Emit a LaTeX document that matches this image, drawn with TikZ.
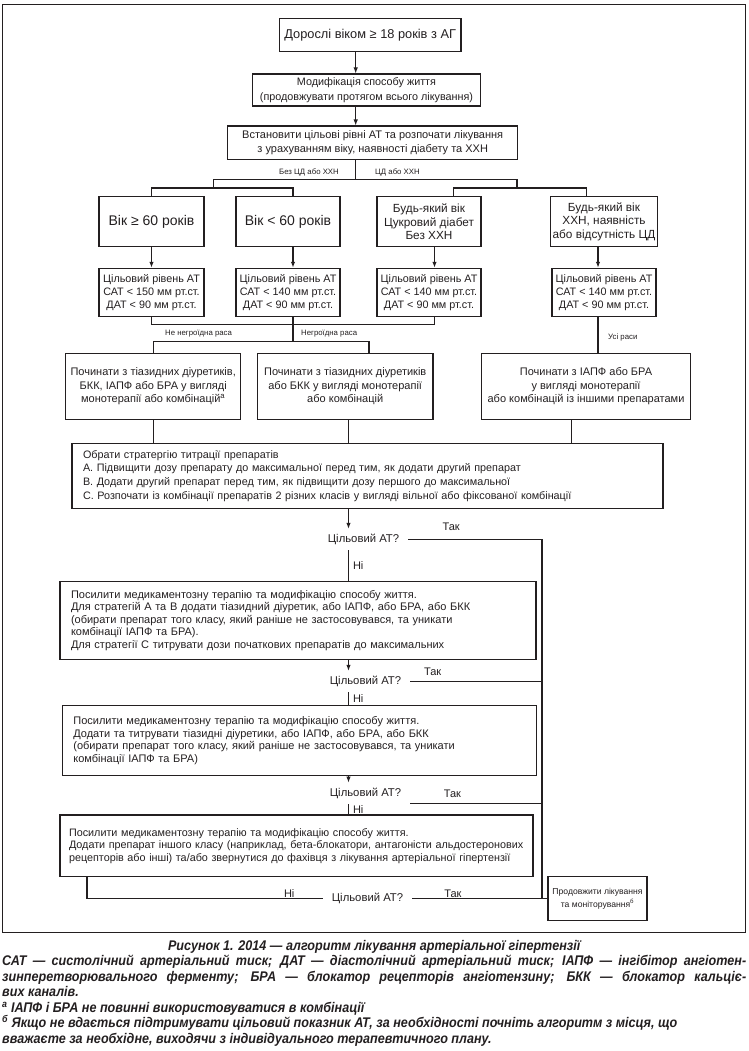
\documentclass[tikz,border=0pt]{standalone}
\usepackage{fontspec}
\setmainfont{Liberation Sans}
\newfontfamily\captionface{Liberation Sans}[FakeStretch=0.9]
\usepackage{xcolor}
\usepackage{tikz}
\usetikzlibrary{arrows.meta,positioning,calc}
\definecolor{algoLine}{RGB}{35,31,32}
\definecolor{algoText}{RGB}{35,31,32}
\tikzset{
  stepbox/.style={rectangle, draw=algoLine, line width=1.1pt, align=center, text=algoText,
    inner sep=2pt, font=\fontsize{11}{13.3}\selectfont},
  headbox/.style={stepbox, font=\fontsize{12.8}{15}\selectfont},
  agebox/.style={stepbox, minimum width=104pt, minimum height=50pt, font=\fontsize{11.8}{13.4}\selectfont},
  bigagebox/.style={agebox, font=\fontsize{14}{16}\selectfont},
  goalbox/.style={stepbox, minimum width=104pt, minimum height=48.4pt, font=\fontsize{10.8}{13}\selectfont},
  startbox/.style={stepbox, minimum height=66pt, font=\fontsize{11}{13.3}\selectfont},
  planbox/.style={stepbox, align=left, inner xsep=11pt, font=\fontsize{11}{12.6}\selectfont},
  endbox/.style={stepbox, font=\fontsize{8.6}{13.3}\selectfont},
  checknode/.style={inner xsep=9pt, inner ysep=0pt, minimum height=21pt, text=algoText,
    font=\fontsize{11.3}{13}\selectfont},
  branchlabel/.style={inner sep=0pt, text=algoText, font=\fontsize{7.8}{9}\selectfont},
  answerlabel/.style={inner sep=1pt, text=algoText, font=\fontsize{11}{12}\selectfont},
  captiontext/.style={inner sep=0pt, align=left, text=algoText,
    font=\captionface\bfseries\itshape\fontsize{14}{15.5}\selectfont},
  link/.style={draw=algoLine, line width=1.1pt},
  flowarrow/.style={link, -{Latex[length=6pt,width=4.5pt]}},
  framebox/.style={draw=algoLine, line width=1.2pt},
}

\begin{document}
\begin{tikzpicture}[x=1pt,y=-1pt]
  \useasboundingbox (0,0) rectangle (748,1051);
  \draw[framebox] (2.5,4.5) rectangle (745.5,932.5);

  % --- lanes for the connectors ---
  \coordinate (spine) at (355.7,0);
  \coordinate (laneYoung) at (293,0);
  \coordinate (laneDiab) at (434.5,0);
  \coordinate (laneCkd) at (598,0);
  \coordinate (laneBlack) at (369,0);
  \coordinate (flow) at (348.5,0);
  \coordinate (laneCkdOut) at (571.4,0);
  \coordinate (trunk) at (542,0);
  \coordinate (loop) at (87,0);

  % --- first steps ---
  \node[headbox, minimum width=181.5pt, minimum height=33.4pt] (adults) at (370.2,35)
    {Дорослі віком ≥ 18 років з АГ};
  \node[stepbox, minimum width=227.7pt, minimum height=32pt, font=\fontsize{10.8}{15}\selectfont] (lifestyle) at (366.5,90)
    {Модифікація способу життя\\(продовжувати протягом всього лікування)};
  \node[stepbox, minimum width=290pt, minimum height=33.3pt] (goals) at (372.7,142.7)
    {Встановити цільові рівні АТ та розпочати лікування\\з урахуванням віку, наявності діабету та ХХН};

  % --- age and diagnosis row ---
  \node[bigagebox, minimum width=105pt] (ageOld) at (151.5,221.7) {Вік ≥ 60 років};
  \node[bigagebox] (ageYoung) at (288,221.7) {Вік < 60 років};
  \node[agebox] (ageDiab) at (429,221.7) {Будь-який вік\\Цукровий діабет\\Без ХХН};
  \node[agebox] (ageCkd) at (604,221.7) {Будь-який вік\\ХХН, наявність\\або відсутність ЦД};

  % --- target pressure row ---
  \node[goalbox, minimum width=105pt] (goalOld) at (151.5,292.5)
    {Цільовий рівень АТ\\САТ < 150 мм рт.ст.\\ДАТ < 90 мм рт.ст.};
  \node[goalbox] (goalYoung) at (288,292.5)
    {Цільовий рівень АТ\\САТ < 140 мм рт.ст.\\ДАТ < 90 мм рт.ст.};
  \node[goalbox] (goalDiab) at (429,292.5)
    {Цільовий рівень АТ\\САТ < 140 мм рт.ст.\\ДАТ < 90 мм рт.ст.};
  \node[goalbox] (goalCkd) at (604,292.5)
    {Цільовий рівень АТ\\САТ < 140 мм рт.ст.\\ДАТ < 90 мм рт.ст.};

  % --- initial therapy row ---
  \node[startbox, minimum width=175pt] (startAll) at (153.2,386.3)
    {Починати з тіазидних діуретиків,\\БКК, ІАПФ або БРА у вигляді\\монотерапії або комбінацій\textsuperscript{а}};
  \node[startbox, minimum width=175.6pt] (startBlack) at (345.2,386.3)
    {Починати з тіазидних діуретиків\\або БКК у вигляді монотерапії\\або комбінацій};
  \node[startbox, minimum width=208.5pt] (startCkd) at (586,386.3)
    {Починати з ІАПФ або БРА\\у вигляді монотерапії\\або комбінацій із іншими препаратами};

  % --- titration strategy ---
  \node[planbox, text width=569pt, minimum height=65.2pt, font=\fontsize{10.8}{13.7}\selectfont] (strategy) at (367.5,476)
    {Обрати стратергію титрації препаратів\\
     А. Підвищити дозу препарату до максимальної перед тим, як додати другий препарат\\
     В. Додати другий препарат перед тим, як підвищити дозу першого до максимальної\\
     С. Розпочати із комбінації препаратів 2 різних класів у вигляді вільної або фіксованої комбінації};

  % --- checks and escalation ---
  \node[checknode] (dec1) at (363.5,539.5) {Цільовий АТ?};
  \node[planbox, text width=454pt, minimum height=77.6pt] (proc1) at (298,620.5)
    {Посилити медикаментозну терапію та модифікацію способу життя.\\
     Для стратегій А та В додати тіазидний діуретик, або ІАПФ, або БРА, або БКК\\
     (обирати препарат того класу, який раніше не застосовувався, та уникати\\
     комбінації ІАПФ та БРА).\\
     Для стратегії С титрувати дози початкових препаратів до максимальних};
  \node[checknode] (dec2) at (365.5,681.5) {Цільовий АТ?};
  \node[planbox, text width=451.7pt, minimum height=69.6pt] (proc2) at (299.2,740.5)
    {Посилити медикаментозну терапію та модифікацію способу життя.\\
     Додати та титрувати тіазидні діуретики, або ІАПФ, або БРА, або БКК\\
     (обирати препарат того класу, який раніше не застосовувався, та уникати\\
     комбінації ІАПФ та БРА)};
  \node[checknode] (dec3) at (365.5,793.3) {Цільовий АТ?};
  \node[planbox, text width=455pt, inner xsep=9pt, minimum height=61.7pt, font=\fontsize{10.8}{12.6}\selectfont] (proc3) at (296.5,845.8)
    {Посилити медикаментозну терапію та модифікацію способу життя.\\
     \mbox{Додати препарат іншого класу (наприклад, бета-блокатори, антагоністи альдостеронових}\\
     рецепторів або інші) та/або звернутися до фахівця з лікування артеріальної гіпертензії};
  \node[checknode] (dec4) at (367.5,898.7) {Цільовий АТ?};
  \node[endbox, minimum width=99pt, minimum height=44pt] (cont) at (597.5,898.7)
    {Продовжити лікування\\та моніторування\textsuperscript{б}};

  % --- branch labels ---
  \node[branchlabel, anchor=east] (noDiab) at (339,172) {Без ЦД або ХХН};
  \node[branchlabel, anchor=west] (withDiab) at (375,172) {ЦД або ХХН};
  \node[branchlabel, anchor=west] (raceOther) at (165,333.5) {Не негроїдна раса};
  \node[branchlabel, anchor=west] (raceBlack) at (301,333.5) {Негроїдна раса};
  \node[branchlabel, anchor=west] (raceAll) at (608,337) {Усі раси};

  % --- top chain and split ---
  \coordinate (split) at (355.7,179.5);
  \coordinate (forkL) at (213.5,188);
  \coordinate (forkR) at (517,188);
  \coordinate (tapDiab) at (453.5,188);
  \coordinate (tapCkd) at (586.5,188);
  \draw[flowarrow] (adults.south -| spine) -- (lifestyle.north -| spine);
  \draw[flowarrow] (lifestyle.south -| spine) -- (goals.north -| spine);
  \draw[link] (goals.south -| spine) -- (split);
  \draw[link] (forkL) |- (split) -| (forkR);
  \draw[link] (ageOld.north) |- (forkL) -| (ageYoung.north -| laneYoung);
  \draw[link] (tapDiab |- ageDiab.north) |- (forkR) -| (tapCkd |- ageCkd.north);

  % --- age to target ---
  \draw[flowarrow] (ageOld) -- (goalOld);
  \draw[flowarrow] (laneYoung |- ageYoung.south) -- (laneYoung |- goalYoung.north);
  \draw[flowarrow] (laneDiab |- ageDiab.south) -- (laneDiab |- goalDiab.north);
  \draw[flowarrow] (laneCkd |- ageCkd.south) -- (laneCkd |- goalCkd.north);

  % --- target to initial therapy ---
  \coordinate (raceUp) at (293,324.3);
  \coordinate (raceLow) at (293,341.5);
  \draw[link] (goalOld.south) |- (raceUp) -| (laneDiab |- goalDiab.south);
  \draw[link] (laneYoung |- goalYoung.south) -- (raceLow);
  \draw[link] (startAll.north) |- (raceLow) -| (laneBlack |- startBlack.north);
  \draw[link] (laneCkd |- goalCkd.south) -- (laneCkd |- startCkd.north);

  % --- initial therapy to strategy ---
  \draw[link] (startAll.south) -- (startAll.south |- strategy.north);
  \draw[link] (flow |- startBlack.south) -- (flow |- strategy.north);
  \draw[link] (laneCkdOut |- startCkd.south) -- (laneCkdOut |- strategy.north);

  % --- escalation chain ---
  \draw[flowarrow] (flow |- strategy.south) -- (flow |- dec1.north);
  \draw[link] (flow |- dec1.south) -- node[answerlabel, right=3pt]{Ні} (flow |- proc1.north);
  \draw[flowarrow] (flow |- proc1.south) -- (flow |- dec2.north);
  \draw[link] (flow |- dec2.south) -- node[answerlabel, right=3pt]{Ні} (flow |- proc2.north);
  \draw[flowarrow] (flow |- proc2.south) -- (flow |- dec3.north);
  \draw[link] (flow |- dec3.south) -- node[answerlabel, right=3pt]{Ні} (flow |- proc3.north);

  % --- yes branches to continue ---
  \coordinate (dec3out) at ($(dec3.east)+(0,10)$);
  \draw[link] (dec1.east) -| node[answerlabel, pos=0.16, above=7pt]{Так} (trunk |- cont.west) -- (cont.west);
  \draw[link] (dec2.east) -- node[answerlabel, pos=0.17, above=4pt]{Так} (dec2.east -| trunk);
  \draw[link] (dec3out) -- node[answerlabel, pos=0.32, above=4pt]{Так} (dec3out -| trunk);
  \draw[link] (dec4.east) -- node[answerlabel, pos=0.3, above=0pt]{Так} (cont.west);
  \draw[link] (dec4.west) -| node[answerlabel, pos=0.071, above=0pt]{Ні} (loop |- proc3.south);

  % --- caption ---
  \node[captiontext, anchor=north west] (caption) at (2,940)
    {\makebox[744pt][c]{Рисунок 1. 2014 — алгоритм лікування артеріальної гіпертензії}\\
     \makebox[744pt][s]{САТ — систолічний артеріальний тиск; ДАТ — діастолічний артеріальний тиск; ІАПФ — інгібітор ангіотен-}\\
     \makebox[744pt][s]{зинперетворювального ферменту; БРА — блокатор рецепторів ангіотензину; БКК — блокатор кальціє-}\\
     вих каналів.\\
     \textsuperscript{а} ІАПФ і БРА не повинні використовуватися в комбінації\\
     \textsuperscript{б} Якщо не вдається підтримувати цільовий показник АТ, за необхідності почніть алгоритм з місця, що\\
     вважаєте за необхідне, виходячи з індивідуального терапевтичного плану.};
\end{tikzpicture}
\end{document}
